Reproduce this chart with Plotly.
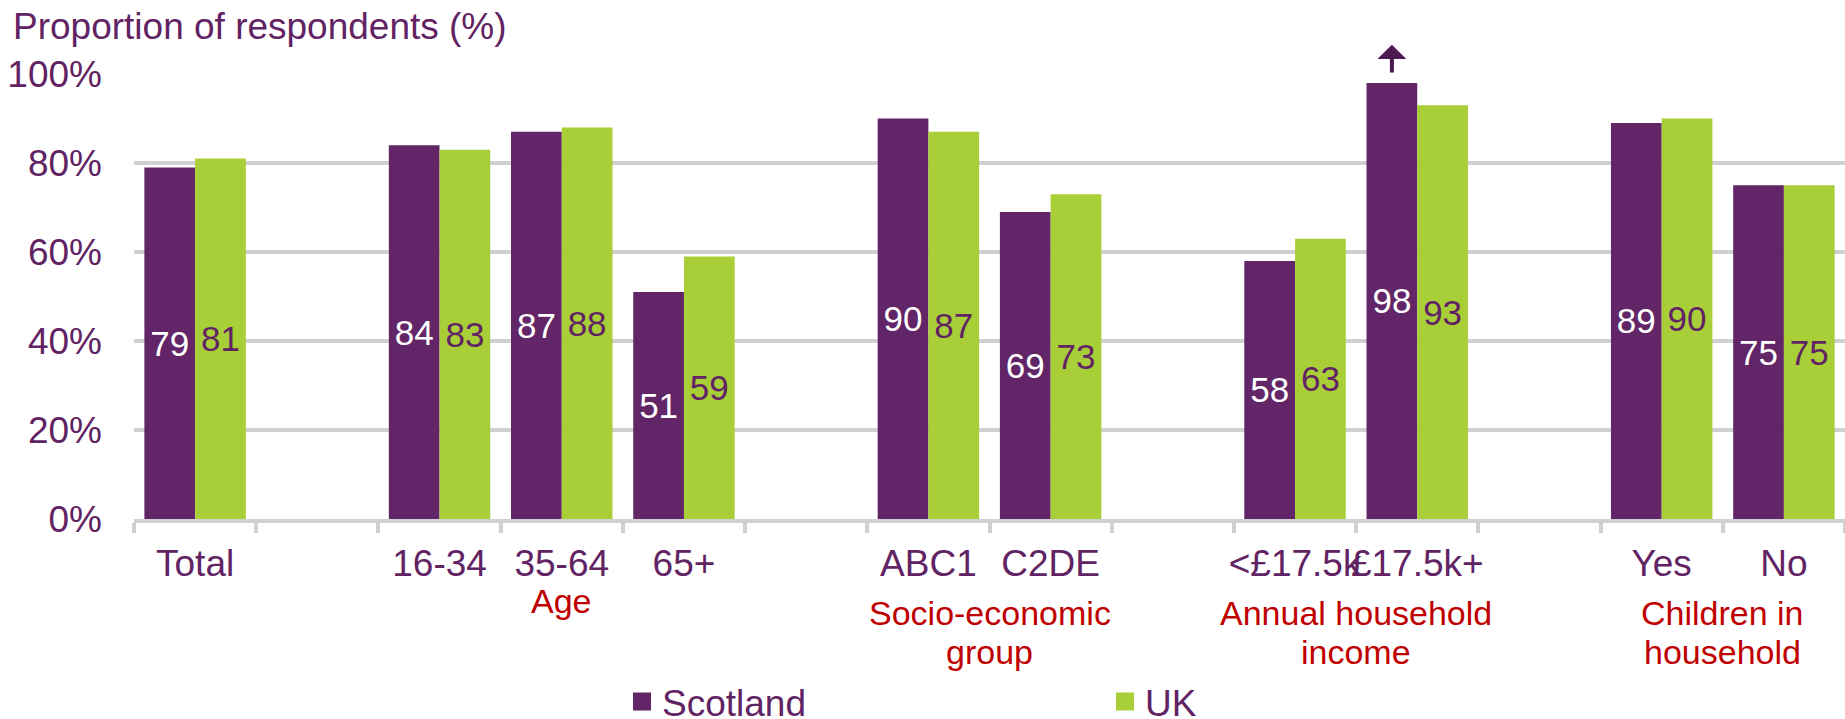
import plotly.graph_objects as go

# ---- data ----
categories = ["Total", " ", "16-34", "35-64", "65+", "  ", "ABC1", "C2DE", "   ",
              "<£17.5k", "£17.5k+", "    ", "Yes", "No"]
scotland = [79, None, 84, 87, 51, None, 90, 69, None, 58, 98, None, 89, 75]
uk = [81, None, 83, 88, 59, None, 87, 73, None, 63, 93, None, 90, 75]
y_ticks = [0, 20, 40, 60, 80, 100]
y_tick_labels = ["0%", "20%", "40%", "60%", "80%", "100%"]
groups = [
    (["Age"], ["16-34", "35-64", "65+"]),
    (["Socio-economic", "group"], ["ABC1", "C2DE"]),
    (["Annual household", "income"], ["<£17.5k", "£17.5k+"]),
    (["Children in", "household"], ["Yes", "No"]),
]
arrow_category = "£17.5k+"   # Scotland bar whose value is marked as rising

# ---- style ----
FONT = "Liberation Sans, Arial, sans-serif"
PURPLE = "#622567"
GREEN = "#a9cf38"
TEXT = "#612363"
RED = "#c00000"
GRID = "#d0d0d0"
ARROW = "#4d1a50"
BARGAP = 0.17


def labels(vals):
    return ["" if v is None else str(v) for v in vals]


fig = go.Figure()
fig.add_bar(x=categories, y=scotland, name="Scotland", marker=dict(color=PURPLE, line=dict(width=0)),
            text=labels(scotland), texttemplate="%{text}", textposition="inside",
            insidetextanchor="middle", textangle=0, constraintext="none",
            textfont=dict(size=35, color="white", family=FONT),
            showlegend=False, hoverinfo="skip")
fig.add_bar(x=categories, y=uk, name="UK", marker=dict(color=GREEN, line=dict(width=0)),
            text=labels(uk), texttemplate="%{text}", textposition="inside",
            insidetextanchor="middle", textangle=0, constraintext="none",
            textfont=dict(size=35, color=TEXT, family=FONT),
            showlegend=False, hoverinfo="skip")
# legend entries
for nm, col in (("Scotland", PURPLE), ("UK", GREEN)):
    fig.add_scatter(x=[None], y=[None], mode="markers", name=nm, hoverinfo="skip",
                    marker=dict(symbol="square", size=16, color=col, line=dict(width=2, color=col)))

annotations = []
for lines, members in groups:
    idx = [categories.index(m) for m in members]
    cx = sum(idx) / len(idx)
    base = -82 if len(lines) == 1 else -94
    for k, line in enumerate(lines):
        annotations.append(dict(x=cx, xref="x", y=0, yref="paper", yanchor="middle",
                                yshift=base - 39 * k, text=line, showarrow=False,
                                font=dict(size=34, color=RED, family=FONT)))

ai = categories.index(arrow_category)
ax_pos = ai - (1 - BARGAP) / 4
annotations.append(dict(x=ax_pos, y=106.6, xref="x", yref="y", ax=ax_pos, ay=100,
                        axref="x", ayref="y", showarrow=True, arrowhead=1, arrowwidth=4,
                        arrowsize=1.2, arrowcolor=ARROW, text=""))

fig.update_layout(
    width=1845, height=719,
    margin=dict(l=134, r=0, t=74, b=200),
    paper_bgcolor="white", plot_bgcolor="white",
    barmode="group", bargap=BARGAP, bargroupgap=0,
    font=dict(family=FONT, color=TEXT, size=37),
    title=dict(text="Proportion of respondents (%)", x=13 / 1845, xanchor="left", xref="container",
               y=1 - 26 / 719, yanchor="middle", yref="container",
               font=dict(size=37, color=TEXT, family=FONT)),
    showlegend=True,
    legend=dict(orientation="h", xref="container", yref="container", x=622 / 1845, y=1 - 702 / 719,
                xanchor="left", yanchor="middle", entrywidth=438, entrywidthmode="pixels",
                font=dict(size=37, color=TEXT, family=FONT), bgcolor="rgba(0,0,0,0)"),
    annotations=annotations,
)
fig.update_xaxes(type="category", categoryorder="array", categoryarray=categories,
                 range=[-0.5, len(categories) - 0.5], showgrid=False, zeroline=False,
                 showline=True, linecolor=GRID, linewidth=4,
                 ticks="outside", tickson="boundaries", ticklen=10, tickwidth=4, tickcolor=GRID,
                 tickangle=0, ticklabelstandoff=9, tickfont=dict(size=37, color=TEXT, family=FONT))
fig.update_yaxes(range=[0, 100], tickvals=y_ticks, ticktext=y_tick_labels, showgrid=True,
                 gridcolor=GRID, gridwidth=4, zeroline=False, showline=False, ticks="",
                 ticklabelstandoff=31, tickfont=dict(size=37, color=TEXT, family=FONT))

fig.write_html("out.html", config={"displayModeBar": False},
               post_script="document.body.style.margin='0';document.body.style.overflow='hidden';")
